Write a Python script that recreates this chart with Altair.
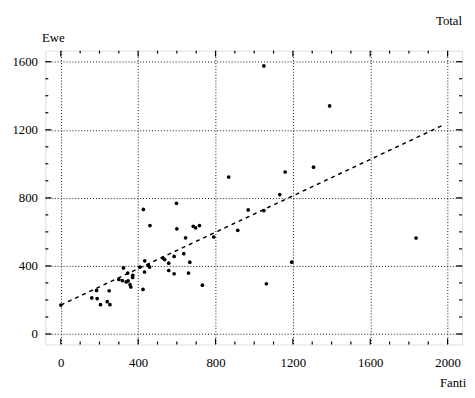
import altair as alt
import pandas as pd

# Scatter data (Fanti vs Ewe)
fanti = [0, 160, 185, 188, 205, 240, 250, 254, 300, 318, 324, 338, 348, 358, 362, 371,
         346, 372, 408, 425, 427, 433, 434, 453, 459, 461, 528, 537, 558, 558, 586, 586,
         598, 600, 636, 645, 660, 667, 685, 697, 717, 732, 791, 868, 915, 969, 1050, 1050,
         1063, 1132, 1160, 1194, 1307, 1390, 1837]
ewe = [170, 212, 256, 208, 172, 190, 254, 172, 320, 314, 388, 306, 312, 290, 276, 332,
       358, 345, 393, 262, 732, 364, 430, 403, 393, 637, 446, 437, 416, 373, 456, 354,
       768, 618, 472, 565, 358, 422, 633, 624, 637, 287, 570, 922, 609, 729, 1575, 725,
       295, 819, 952, 422, 980, 1340, 564]

# Fitted (dashed) line end points
fit_x = [0, 1980]
fit_y = [170, 1229]

x_major = [0, 400, 800, 1200, 1600, 2000]
y_major = [0, 400, 800, 1200, 1600]
x_minor = [v for v in range(0, 2001, 100) if v % 400 != 0]
y_minor = [v for v in range(0, 1601, 100) if v % 400 != 0]

title_text = ["Total"]

W, H = 424, 299
FONT = "Liberation Serif"

pts = pd.DataFrame({"Fanti": fanti, "Ewe": ewe})
fit = pd.DataFrame({"Fanti": fit_x, "Ewe": fit_y})
xmaj = pd.DataFrame({"Fanti": x_major})
xmin = pd.DataFrame({"Fanti": x_minor})
ymaj = pd.DataFrame({"Ewe": y_major})
ymin = pd.DataFrame({"Ewe": y_minor})
ttl = pd.DataFrame({"t": title_text})

xscale = alt.Scale(domain=[-80, 2075], nice=False, zero=False)
yscale = alt.Scale(domain=[-62, 1665], nice=False, zero=False)

xaxis = alt.Axis(values=x_major, format="d", grid=True, gridDash=[1, 2], gridColor="#111",
                 gridWidth=1, ticks=False, domain=False, labelFont=FONT, labelFontSize=13,
                 labelColor="black", labelPadding=12, title="Fanti", titleFont=FONT,
                 titleFontSize=13, titleFontWeight="normal", titleColor="black",
                 titleX=401, titleY=43, titleAlign="left", titleBaseline="alphabetic")
yaxis = alt.Axis(values=y_major, format="d", grid=True, gridDash=[1, 2], gridColor="#111",
                 gridWidth=1, ticks=False, domain=False, labelFont=FONT, labelFontSize=13,
                 labelColor="black", labelPadding=8, title="Ewe", titleFont=FONT,
                 titleFontSize=13, titleFontWeight="normal", titleColor="black",
                 titleAngle=0, titleX=-4, titleY=-9, titleAlign="left",
                 titleBaseline="alphabetic")

points = alt.Chart(pts).mark_circle(color="black", size=14, opacity=1).encode(
    x=alt.X("Fanti:Q", scale=xscale, axis=xaxis),
    y=alt.Y("Ewe:Q", scale=yscale, axis=yaxis),
)
line = alt.Chart(fit).mark_line(color="black", strokeDash=[4, 4], strokeWidth=1.5).encode(
    x="Fanti:Q", y="Ewe:Q")

title_mark = alt.Chart(ttl).mark_text(font=FONT, fontSize=13, color="black", align="right",
                                      baseline="alphabetic").encode(
    text="t:N", x=alt.value(W), y=alt.value(-26))

def xticks(df, length):
    bottom = alt.Chart(df).mark_rule(color="black", strokeWidth=1.2).encode(
        x="Fanti:Q", y=alt.value(H), y2=alt.value(H - length))
    top = alt.Chart(df).mark_rule(color="black", strokeWidth=1.2).encode(
        x="Fanti:Q", y=alt.value(0), y2=alt.value(length))
    return [bottom, top]

def yticks(df, length):
    left = alt.Chart(df).mark_rule(color="black", strokeWidth=1.2).encode(
        y="Ewe:Q", x=alt.value(0), x2=alt.value(length))
    right = alt.Chart(df).mark_rule(color="black", strokeWidth=1.2).encode(
        y="Ewe:Q", x=alt.value(W), x2=alt.value(W - length))
    return [left, right]

layers = ([points, line] + xticks(xmaj, 6) + xticks(xmin, 3) + yticks(ymaj, 6)
          + yticks(ymin, 3) + [title_mark])

chart = alt.layer(*layers).properties(
    width=W, height=H,
    autosize=alt.AutoSizeParams(type="none"),
    padding={"left": 38, "top": 40, "right": 5, "bottom": 50},
).configure_view(stroke="black", strokeWidth=1.5).configure(background="white")

chart.save("out.html", embed_options={"renderer": "svg", "actions": False})
